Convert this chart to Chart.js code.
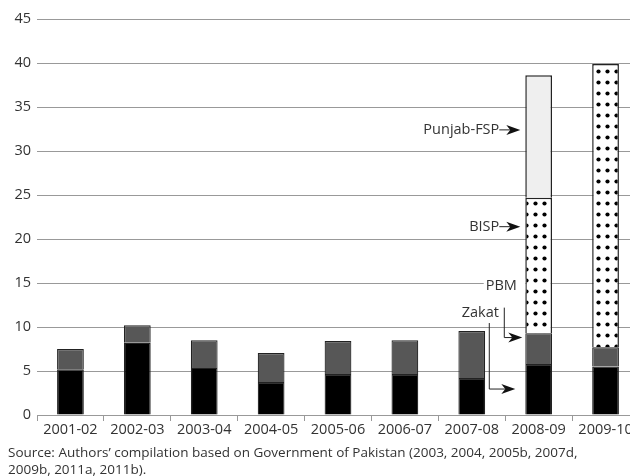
<!DOCTYPE html>
<html>
<head>
<meta charset="utf-8">
<script src="https://cdn.jsdelivr.net/npm/chart.js@4/dist/chart.umd.min.js"></script>
<style>
  html, body { margin: 0; padding: 0; background: #fff; overflow: hidden; }
  #wrap { width: 640px; height: 476px; }
</style>
</head>
<body>
<div id="wrap"><canvas id="socialChart" width="640" height="476"></canvas></div>
<script>
// data (Rs billion)
const years = ['2001-02', '2002-03', '2003-04', '2004-05', '2005-06', '2006-07', '2007-08', '2008-09', '2009-10'];
const zakat = [5.2, 8.2, 5.35, 3.75, 4.65, 4.65, 4.2, 5.8, 5.5];
const pbm = [2.3, 2.0, 3.15, 3.3, 3.75, 3.85, 5.35, 3.5, 2.2];
const bisp = [null, null, null, null, null, null, null, 15.4, 32.2];
const punjabFsp = [null, null, null, null, null, null, null, 13.9, null];
const yTicks = [0, 5, 10, 15, 20, 25, 30, 35, 40, 45];
const sourceLines = [
    'Source: Authors\u2019 compilation based on Government of Pakistan (2003, 2004, 2005b, 2007d,',
    '2009b, 2011a, 2011b).'
];
const unitLabel = '(Rs billion, current prices)';

const FONT = '"Open Sans", "Noto Sans", sans-serif';

// dotted fill for BISP
function makeDots() {
    const c = document.createElement('canvas');
    c.width = 9; c.height = 11;
    const g = c.getContext('2d');
    g.fillStyle = '#fff';
    g.fillRect(0, 0, 9, 11);
    g.fillStyle = '#000';
    g.beginPath();
    g.arc(4.5, 5.5, 2.1, 0, Math.PI * 2);
    g.fill();
    return g.createPattern(c, 'repeat');
}

// arrow with a notched head, tip at (x, y) pointing right
function arrowHead(ctx, x, y) {
    ctx.beginPath();
    ctx.moveTo(x, y);
    ctx.lineTo(x - 14, y - 5);
    ctx.lineTo(x - 10, y);
    ctx.lineTo(x - 14, y + 5);
    ctx.closePath();
    ctx.fill();
}

const notesPlugin = {
    id: 'notes',
    afterDatasetsDraw(chart) {
        const ctx = chart.ctx;
        const y = chart.scales.y;
        const bar = chart.getDatasetMeta(0).data[7];
        const left = bar.x - bar.width / 2;
        ctx.save();
        ctx.font = '14.5px ' + FONT;
        ctx.fillStyle = '#333';
        ctx.strokeStyle = '#222';
        ctx.lineWidth = 1;
        ctx.textBaseline = 'middle';

        // Punjab-FSP and BISP: text + straight arrow
        [['Punjab-FSP', 32.4], ['BISP', 21.4]].forEach(([t, v]) => {
            const py = y.getPixelForValue(v);
            ctx.textAlign = 'right';
            ctx.fillStyle = '#333';
            ctx.fillText(t, left - 26, py);
            ctx.beginPath();
            ctx.moveTo(left - 26, py);
            ctx.lineTo(left - 14, py);
            ctx.stroke();
            ctx.fillStyle = '#111';
            arrowHead(ctx, left - 5, py);
        });

        // PBM label with white box over the gridline
        const pbmY = y.getPixelForValue(14.7);
        ctx.textAlign = 'center';
        const w = ctx.measureText('PBM').width;
        ctx.fillStyle = '#fff';
        ctx.fillRect(left - 24 - w / 2 - 2, pbmY - 7, w + 4 + 22 - w / 2, 14);
        ctx.fillStyle = '#333';
        ctx.fillText('PBM', left - 24, pbmY);
        ctx.beginPath();
        ctx.moveTo(left - 21, y.getPixelForValue(12.2));
        ctx.lineTo(left - 21, y.getPixelForValue(8.8));
        ctx.lineTo(left - 13, y.getPixelForValue(8.8));
        ctx.stroke();
        ctx.fillStyle = '#111';
        arrowHead(ctx, left - 3, y.getPixelForValue(8.8));

        // Zakat label
        ctx.fillStyle = '#333';
        ctx.fillText('Zakat', left - 45, y.getPixelForValue(11.6));
        ctx.beginPath();
        ctx.moveTo(left - 36, y.getPixelForValue(10.45));
        ctx.lineTo(left - 36, y.getPixelForValue(2.95));
        ctx.lineTo(left - 20, y.getPixelForValue(2.95));
        ctx.stroke();
        ctx.fillStyle = '#111';
        arrowHead(ctx, left - 10, y.getPixelForValue(2.95));
        ctx.restore();
    },
    afterDraw(chart) {
        const ctx = chart.ctx;
        ctx.save();
        ctx.fillStyle = '#333';
        ctx.textAlign = 'left';
        ctx.textBaseline = 'alphabetic';
        ctx.font = '13px ' + FONT;
        ctx.fillText(unitLabel, 12, -3);
        ctx.font = '13.5px ' + FONT;
        sourceLines.forEach((s, i) => {
            ctx.fillText(s, 8, 457 + i * 17);
        });
        ctx.restore();
    }
};

const ctx = document.getElementById('socialChart').getContext('2d');
const edge = '#222';
new Chart(ctx, {
    type: 'bar',
    data: {
        labels: years,
        datasets: [
            { label: 'Zakat', data: zakat, backgroundColor: '#000', borderColor: edge, borderWidth: 1.2 },
            { label: 'PBM', data: pbm, backgroundColor: '#575757', borderColor: edge, borderWidth: 1.2 },
            { label: 'BISP', data: bisp, backgroundColor: makeDots(), borderColor: edge, borderWidth: 1.5 },
            { label: 'Punjab-FSP', data: punjabFsp, backgroundColor: '#efefef', borderColor: edge, borderWidth: 1.5 }
        ]
    },
    options: {
        responsive: false,
        animation: { duration: 0 },
        layout: { padding: { top: 19, right: 1, left: 0, bottom: 0 } },
        datasets: { bar: { barPercentage: 0.4, categoryPercentage: 1 } },
        plugins: {
            legend: { display: false },
            tooltip: { enabled: false }
        },
        scales: {
            x: {
                stacked: true,
                border: { color: '#999', width: 1 },
                grid: { offset: true, drawOnChartArea: false, drawTicks: true, tickLength: 6, color: '#999' },
                ticks: { color: '#333', font: { family: FONT, size: 14.5 }, padding: 0, maxRotation: 0, autoSkip: false },
                afterFit(s) { s.height = 61; }
            },
            y: {
                stacked: true,
                min: 0,
                max: 45,
                border: { display: false },
                grid: { color: '#999', lineWidth: 1, drawTicks: false },
                afterBuildTicks(s) { s.ticks = yTicks.map(v => ({ value: v })); },
                ticks: { color: '#333', font: { family: FONT, size: 14.5 }, padding: 6 },
                afterFit(s) { s.width = 37; }
            }
        }
    },
    plugins: [notesPlugin]
});
</script>
</body>
</html>
